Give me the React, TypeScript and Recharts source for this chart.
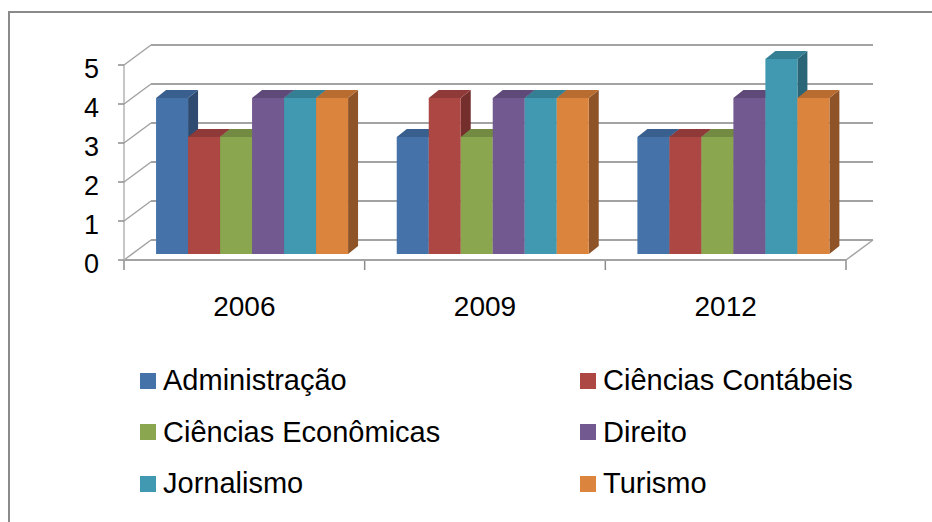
import { Bar, BarChart, CartesianGrid, XAxis, YAxis } from "recharts";

const CATEGORIES = ["2006", "2009", "2012"];
const ADMINISTRACAO = [4, 3, 3];
const CONTABEIS = [3, 4, 3];
const ECONOMICAS = [3, 3, 3];
const DIREITO = [4, 4, 4];
const JORNALISMO = [4, 4, 5];
const TURISMO = [4, 4, 4];
const Y_TICKS = [0, 1, 2, 3, 4, 5];

const SERIES = [
  { key: "adm", name: "Administração", values: ADMINISTRACAO, color: "#4572a8", top: "#395f8e", side: "#2f4c70" },
  { key: "cont", name: "Ciências Contábeis", values: CONTABEIS, color: "#ac4744", top: "#8f3a38", side: "#742f2d" },
  { key: "eco", name: "Ciências Econômicas", values: ECONOMICAS, color: "#8aa64f", top: "#728a41", side: "#5c7034" },
  { key: "dir", name: "Direito", values: DIREITO, color: "#725990", top: "#5e4978", side: "#4b3a60" },
  { key: "jor", name: "Jornalismo", values: JORNALISMO, color: "#4099b0", top: "#347f93", side: "#2a6677" },
  { key: "tur", name: "Turismo", values: TURISMO, color: "#db843e", top: "#b86c30", side: "#8e5428" },
];

const data = CATEGORIES.map((year, i) => {
  const row: Record<string, string | number> = { year };
  for (const s of SERIES) row[s.key] = s.values[i];
  return row;
});

// layout of the fake 3d box (bar plane = plot area)
const W = 932;
const H = 522;
const PLOT_LEFT = 132;
const PLOT_RIGHT = 854;
const PLOT_TOP = 59;
const PLOT_BOTTOM = 254;
const FRONT = { dx: -8, dy: 6 };
const BACK = { dx: 19, dy: -14 };
const DEPTH = { dx: 10, dy: -8 };
const FONT = '"Liberation Sans", Arial, sans-serif';
const GRID = "#a3a3a3";

function Bar3D(props: any) {
  const { x, y, width, height, fill, topFill, sideFill } = props;
  if (width == null || height == null || height <= 0) return null;
  const d = DEPTH.dx;
  const e = DEPTH.dy;
  return (
    <g>
      <polygon
        points={`${x + width},${y} ${x + width + d},${y + e} ${x + width + d},${y + height + e} ${x + width},${y + height}`}
        fill={sideFill}
      />
      <polygon
        points={`${x},${y} ${x + d},${y + e} ${x + width + d},${y + e} ${x + width},${y}`}
        fill={topFill}
      />
      <rect x={x} y={y} width={width} height={height} fill={fill} />
    </g>
  );
}

function YTick(props: any) {
  const { y, payload } = props;
  const fx = PLOT_LEFT + FRONT.dx;
  const fy = y + FRONT.dy;
  const bx = PLOT_LEFT + BACK.dx;
  const by = y + BACK.dy;
  const isZero = payload.value === 0;
  return (
    <g>
      <line x1={fx} y1={fy} x2={bx} y2={by} stroke={GRID} strokeWidth={1.5} />
      <line x1={fx - 6} y1={fy} x2={fx} y2={fy} stroke="#8c8c8c" strokeWidth={1.5} />
      {isZero && (
        <>
          <line x1={fx} y1={PLOT_TOP + FRONT.dy} x2={fx} y2={fy} stroke="#b5b5b5" strokeWidth={1.5} />
          <line x1={fx} y1={fy} x2={PLOT_RIGHT + FRONT.dx} y2={fy} stroke={GRID} strokeWidth={2} />
          <line
            x1={PLOT_RIGHT + FRONT.dx}
            y1={fy}
            x2={PLOT_RIGHT + BACK.dx}
            y2={by}
            stroke={GRID}
            strokeWidth={1.5}
          />
        </>
      )}
      <text
        x={99}
        y={fy + 4}
        textAnchor="end"
        dominantBaseline="central"
        fontSize={27}
        fontFamily={FONT}
        fill="#000"
      >
        {payload.value}
      </text>
    </g>
  );
}

function XTick(props: any) {
  const { x, payload, index } = props;
  const half = (PLOT_RIGHT - PLOT_LEFT) / CATEGORIES.length / 2;
  const fy = PLOT_BOTTOM + FRONT.dy;
  const left = x - half + FRONT.dx;
  const right = x + half + FRONT.dx;
  return (
    <g>
      <line x1={left} y1={fy} x2={left} y2={fy + 10} stroke="#8c8c8c" strokeWidth={1.5} />
      {index === CATEGORIES.length - 1 && (
        <line x1={right} y1={fy} x2={right} y2={fy + 10} stroke="#8c8c8c" strokeWidth={1.5} />
      )}
      <text
        x={x + FRONT.dx}
        y={306}
        textAnchor="middle"
        dominantBaseline="central"
        fontSize={28}
        fontFamily={FONT}
        fill="#000"
      >
        {payload.value}
      </text>
    </g>
  );
}

export default function App() {
  return (
    <div
      style={{
        position: "absolute",
        left: 0,
        top: 0,
        width: W,
        height: H,
        overflow: "hidden",
        background: "#fff",
        fontFamily: FONT,
      }}
    >
      <div
        style={{
          position: "absolute",
          left: 8,
          top: 11,
          width: 960,
          height: 560,
          border: "2px solid #8a8a8a",
        }}
      />
      <div style={{ position: "absolute", left: 0, top: 0 }}>
        <BarChart
          width={W}
          height={H}
          data={data}
          margin={{ top: PLOT_TOP, right: W - PLOT_RIGHT, bottom: H - PLOT_BOTTOM - 40, left: PLOT_LEFT - 40 }}
          barCategoryGap="10%"
          barGap={0}
        >
          <CartesianGrid
            vertical={false}
            x={PLOT_LEFT + BACK.dx}
            width={PLOT_RIGHT - PLOT_LEFT}
            stroke={GRID}
            strokeWidth={2}
            horizontalCoordinatesGenerator={({ yAxis, offset }: any) =>
              Y_TICKS.map((v) => {
                const base =
                  yAxis && typeof yAxis.scale === "function"
                    ? yAxis.scale(v)
                    : offset.top + offset.height * (1 - v / 5);
                return base + BACK.dy;
              })
            }
          />
          <XAxis
            dataKey="year"
            height={40}
            axisLine={false}
            tickLine={false}
            interval={0}
            tick={<XTick />}
          />
          <YAxis
            domain={[0, 5]}
            ticks={Y_TICKS}
            width={40}
            axisLine={false}
            tickLine={false}
            tick={<YTick />}
          />
          {SERIES.map((s) => (
            <Bar
              key={s.key}
              dataKey={s.key}
              name={s.name}
              fill={s.color}
              isAnimationActive={false}
              shape={(p: any) => <Bar3D {...p} topFill={s.top} sideFill={s.side} />}
            />
          ))}
        </BarChart>
      </div>
      <div
        style={{
          position: "absolute",
          left: 140,
          top: 355,
          display: "grid",
          gridTemplateColumns: "440px 360px",
          gridAutoRows: "51.5px",
        }}
      >
        {SERIES.map((s) => (
          <div key={s.key} style={{ display: "flex", alignItems: "center" }}>
            <span style={{ width: 16, height: 16, background: s.color, marginRight: 7, flex: "none" }} />
            <span style={{ fontSize: 29, lineHeight: 1, color: "#000" }}>{s.name}</span>
          </div>
        ))}
      </div>
    </div>
  );
}
